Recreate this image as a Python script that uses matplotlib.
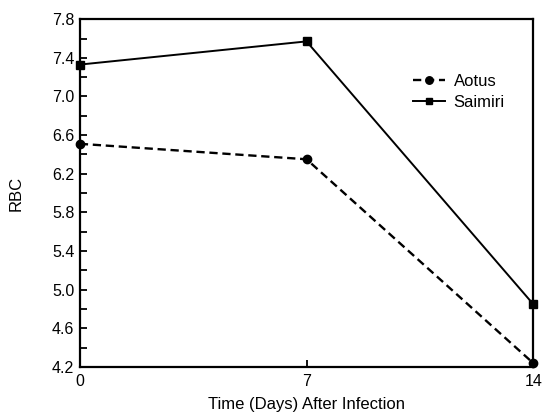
import numpy as np
import matplotlib as mpl

mpl.use("Agg")
import matplotlib.pyplot as plt  # noqa

days = [0, 7, 14]
aotus = [6.51, 6.35, 4.24]
saimiri = [7.33, 7.57, 4.85]
ytick_labels = ['4.2', '4.6', '5.0', '5.4', '5.8', '6.2', '6.6', '7.0', '7.4', '7.8']

plt.rcParams['font.family'] = ['Liberation Sans', 'DejaVu Sans']

fig = plt.figure(figsize=(5.43, 4.17), dpi=100)
ax = fig.add_axes([0.147, 0.12, 0.835, 0.834])

ax.plot(days, aotus, '--', color='black', lw=1.7, dashes=(3.5, 2),
        marker='o', ms=6, label='Aotus', clip_on=False)
ax.plot(days, saimiri, '-', color='black', lw=1.4,
        marker='s', ms=5.5, label='Saimiri', clip_on=False)

ax.set_xlim(0, 14)
ax.set_ylim(4.2, 7.8)
ax.set_xticks(days)
ax.set_yticks([float(t) for t in ytick_labels])
ax.set_yticklabels(ytick_labels)
ax.set_yticks(np.arange(4.4, 7.8, 0.4), minor=True)
ax.tick_params(direction='in', length=5, width=1.3, labelsize=11.5, pad=4)
ax.tick_params(which='minor', direction='in', length=5, width=1.3)
ax.tick_params(axis='x', pad=5)
for s in ax.spines.values():
    s.set_linewidth(1.6)

ax.set_xlabel('Time (Days) After Infection', fontsize=12, labelpad=6)
ax.set_ylabel('RBC', fontsize=12, labelpad=20)

ax.legend(loc='upper right', bbox_to_anchor=(0.97, 0.885), frameon=False,
          handlelength=1.9, handletextpad=0.5, fontsize=12,
          labelspacing=0.35, markerscale=0.9)

fig.savefig('out.png', dpi=100)
